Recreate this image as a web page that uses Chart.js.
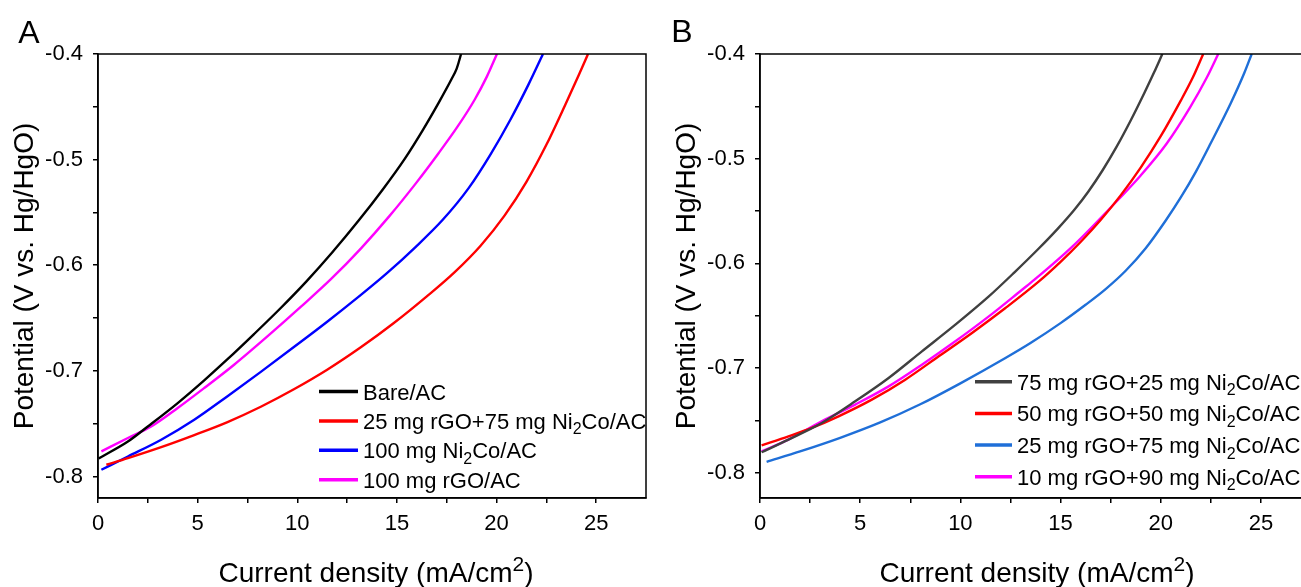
<!DOCTYPE html>
<html><head><meta charset="utf-8">
<script src="https://cdn.jsdelivr.net/npm/chart.js@4"></script>
<style>
html,body{margin:0;padding:0;background:#fff;overflow:hidden;width:1301px;height:587px;position:relative}
#wa{position:absolute;left:0;top:0;width:660px;height:587px}
#wb{position:absolute;left:660px;top:0;width:700px;height:587px}
</style></head><body>
<div id="wa"><canvas id="ca"></canvas></div>
<div id="wb"><canvas id="cb"></canvas></div>
<script>
// ---------- data ----------
const xTicks = [0,2.5,5,7.5,10,12.5,15,17.5,20,22.5,25];
const xTickLabels = ['0','5','10','15','20','25'];
const yTicks = [-0.8,-0.75,-0.7,-0.65,-0.6,-0.55,-0.5,-0.45,-0.4];
const yTickLabels = ['-0.8','-0.7','-0.6','-0.5','-0.4'];

const xTitle = 'Current density (mA/cm²)';
const yTitle = 'Potential (V vs. Hg/HgO)';

// Panel A : [current density, potential]
const aLabels = ['Bare/AC','25 mg rGO+75 mg Ni₂Co/AC','100 mg Ni₂Co/AC','100 mg rGO/AC'];
const aBare = [[0.03,-0.783],[1.5,-0.767],[2.5,-0.7527],[4.0,-0.7305],[5.33,-0.709],[6.5,-0.689],[7.83,-0.6652],[9.17,-0.6405],[10.45,-0.6155],[11.75,-0.588],[13.09,-0.5575],[14.3,-0.528],[15.4,-0.499],[16.3,-0.472],[17.1,-0.446],[17.75,-0.4235],[18.0,-0.4138],[18.09,-0.4085],[18.22,-0.4]];
const aRed = [[0.42,-0.7889],[1.5,-0.7826],[3.17,-0.7722],[4.83,-0.7608],[6.5,-0.7485],[8.17,-0.734],[9.83,-0.7175],[11.5,-0.699],[13.17,-0.678],[14.83,-0.655],[16.5,-0.6295],[17.9,-0.6065],[19.2,-0.5815],[20.4,-0.553],[21.5,-0.521],[22.5,-0.486],[23.45,-0.448],[24.15,-0.419],[24.59,-0.4]];
const aBlue = [[0.17,-0.7937],[1.5,-0.7811],[3.17,-0.7652],[4.83,-0.7463],[6.5,-0.724],[8.17,-0.701],[9.83,-0.6775],[11.5,-0.6535],[13.1,-0.6295],[14.5,-0.6075],[15.92,-0.583],[17.3,-0.557],[18.6,-0.527],[19.7,-0.495],[20.7,-0.462],[21.6,-0.429],[22.33,-0.4]];
const aMagenta = [[0.17,-0.7763],[1.5,-0.7636],[2.67,-0.7527],[4.0,-0.7352],[5.33,-0.7163],[6.83,-0.6942],[8.5,-0.6674],[10.2,-0.639],[11.7,-0.613],[13.2,-0.584],[14.6,-0.554],[15.95,-0.5225],[17.1,-0.4937],[18.05,-0.4686],[18.9,-0.4433],[19.52,-0.4212],[20.02,-0.4]];

// Panel B
const bLabels = ['75 mg rGO+25 mg Ni₂Co/AC','50 mg rGO+50 mg Ni₂Co/AC','25 mg rGO+75 mg Ni₂Co/AC','10 mg rGO+90 mg Ni₂Co/AC'];
const bGray = [[0.08,-0.7803],[1.42,-0.7682],[3.08,-0.7523],[4.75,-0.7317],[6.42,-0.7094],[8.08,-0.684],[9.75,-0.6585],[11.42,-0.6315],[12.7,-0.6085],[13.9,-0.586],[14.9,-0.566],[15.7,-0.5485],[16.4,-0.531],[17.1,-0.511],[17.8,-0.4885],[18.5,-0.4635],[19.2,-0.4365],[19.67,-0.4175],[20.08,-0.4]];
const bRed = [[0.08,-0.7737],[1.42,-0.7651],[2.58,-0.7571],[3.92,-0.746],[5.58,-0.7301],[7.25,-0.711],[8.92,-0.6887],[10.58,-0.6664],[12.25,-0.6426],[13.92,-0.6172],[15.0,-0.5985],[16.0,-0.5795],[17.0,-0.5585],[18.0,-0.535],[19.0,-0.5085],[20.0,-0.4785],[21.0,-0.4445],[21.6,-0.4225],[22.12,-0.4]];
const bBlue = [[0.33,-0.7895],[2.0,-0.7795],[4.0,-0.7665],[6.0,-0.7518],[8.0,-0.7345],[10.0,-0.7145],[12.25,-0.6903],[13.5,-0.676],[15.0,-0.657],[16.25,-0.6395],[17.25,-0.6245],[18.25,-0.607],[19.25,-0.5855],[20.25,-0.559],[21.0,-0.537],[21.75,-0.5125],[22.5,-0.485],[23.5,-0.4468],[24.17,-0.4182],[24.54,-0.4]];
const bMagenta = [[0.08,-0.7794],[1.42,-0.7682],[3.08,-0.7508],[4.75,-0.7348],[6.42,-0.7174],[8.08,-0.6967],[9.75,-0.6744],[11.42,-0.6506],[13.08,-0.6251],[13.7,-0.6155],[15.6,-0.5837],[17.4,-0.5487],[19.0,-0.516],[20.3,-0.4855],[21.45,-0.4515],[22.3,-0.4225],[22.87,-0.4]];

// ---------- drawing ----------
const FONT = "'Liberation Sans', Arial, Helvetica, sans-serif";

function segs(text){
  const out=[]; let cur='';
  for(const ch of text){
    if(ch==='₂'||ch==='²'){ if(cur) out.push({t:cur,k:0}); cur=''; out.push({t:'2',k: ch==='₂'?1:2}); }
    else cur+=ch;
  }
  if(cur) out.push({t:cur,k:0});
  return out;
}
function drawRich(ctx,text,x,y,size,align){
  const parts=segs(text);
  const fs=p=> p.k===0?size:(p.k===1?Math.round(size*0.72):Math.round(size*0.75));
  let w=0;
  parts.forEach(p=>{ctx.font=fs(p)+'px '+FONT; p.w=ctx.measureText(p.t).width; w+=p.w;});
  let cx = align==='center'? x-w/2 : x;
  ctx.textAlign='left'; ctx.textBaseline='alphabetic';
  parts.forEach(p=>{
    ctx.font=fs(p)+'px '+FONT;
    const dy = p.k===1? size*0.25 : (p.k===2? -size*0.4 : 0);
    ctx.fillText(p.t,cx,y+dy); cx+=p.w;
  });
}

const annot = {
  id:'annot',
  afterDraw(chart,args,o){
    const ctx=chart.ctx, ca=chart.chartArea;
    ctx.save();
    ctx.strokeStyle='#000'; ctx.lineWidth=1.5;
    ctx.strokeRect(ca.left,ca.top,ca.right-ca.left,ca.bottom-ca.top);
    ctx.fillStyle='#000';
    ctx.font='32px '+FONT; ctx.textAlign='center'; ctx.textBaseline='alphabetic';
    ctx.fillText(o.letter,o.letterX,o.letterY);
    drawRich(ctx,xTitle,o.xTitleX,o.xTitleY,28,'center');
    ctx.save(); ctx.translate(o.yTitleX,o.yTitleY); ctx.rotate(-Math.PI/2);
    drawRich(ctx,yTitle,0,0,28,'center'); ctx.restore();
    o.labels.forEach((lab,i)=>{
      const cy=o.legY+i*o.legStep;
      ctx.strokeStyle=chart.data.datasets[i].borderColor; ctx.lineWidth=3.5;
      ctx.beginPath(); ctx.moveTo(o.legX1,cy); ctx.lineTo(o.legX2,cy); ctx.stroke();
      ctx.fillStyle='#000';
      drawRich(ctx,lab,o.legTX,cy+8,22,'left');
    });
    ctx.restore();
  }
};

function fmt(v){ return String(Math.round(v*100)/100); }

function makeChart(id,series,colors,yMin,leftW,padRight,annotOpts){
  return new Chart(document.getElementById(id),{
    type:'line',
    data:{datasets: series.map((s,i)=>({
      data:s.map(p=>({x:p[0],y:p[1]})),
      borderColor:colors[i], borderWidth:2.4, pointRadius:0, cubicInterpolationMode:'monotone', fill:false
    }))},
    options:{
      responsive:true, maintainAspectRatio:false, animation:false,
      layout:{padding:{top:54,right:padRight,bottom:0,left:0}},
      plugins:{legend:{display:false},tooltip:{enabled:false},annot:annotOpts},
      scales:{
        x:{type:'linear',min:0,max:27.5,
          afterFit:s=>{s.height=89;},
          afterBuildTicks:s=>{s.ticks=xTicks.map(v=>({value:v}));},
          grid:{drawOnChartArea:false,drawTicks:true,tickLength:5,color:'#000',lineWidth:1.5},
          border:{display:true,color:'#000',width:1.5},
          ticks:{autoSkip:false,maxRotation:0,padding:8,color:'#000',font:{family:FONT,size:22},
            callback:v=>xTickLabels.includes(fmt(v))?fmt(v):''}
        },
        y:{type:'linear',min:yMin,max:-0.4,
          afterFit:s=>{s.width=leftW;},
          afterBuildTicks:s=>{s.ticks=yTicks.map(v=>({value:v}));},
          grid:{drawOnChartArea:false,drawTicks:true,tickLength:5,color:'#000',lineWidth:1.5},
          border:{display:true,color:'#000',width:1.5},
          ticks:{autoSkip:false,padding:10,color:'#000',font:{family:FONT,size:22},
            callback:v=>yTickLabels.includes(fmt(v))?fmt(v):''}
        }
      }
    },
    plugins:[annot]
  });
}

makeChart('ca',[aBare,aRed,aBlue,aMagenta],['#000000','#ff0000','#0000ff','#ff00ff'],-0.8204,98,14,{
  letter:'A',letterX:29,letterY:43,xTitleX:376,xTitleY:582,yTitleX:33,yTitleY:276,
  labels:aLabels,legY:391.5,legStep:29.4,legX1:319,legX2:358,legTX:363
});
makeChart('cb',[bGray,bRed,bBlue,bMagenta],['#404040','#ff0000','#1f6fd8','#ff00ff'],-0.824,100,49,{
  letter:'B',letterX:22,letterY:42,xTitleX:1037-660,xTitleY:582,yTitleX:695-660,yTitleY:276,
  labels:bLabels,legY:381.7,legStep:31.7,legX1:975-660,legX2:1012-660,legTX:1017-660
});
</script>
</body></html>
